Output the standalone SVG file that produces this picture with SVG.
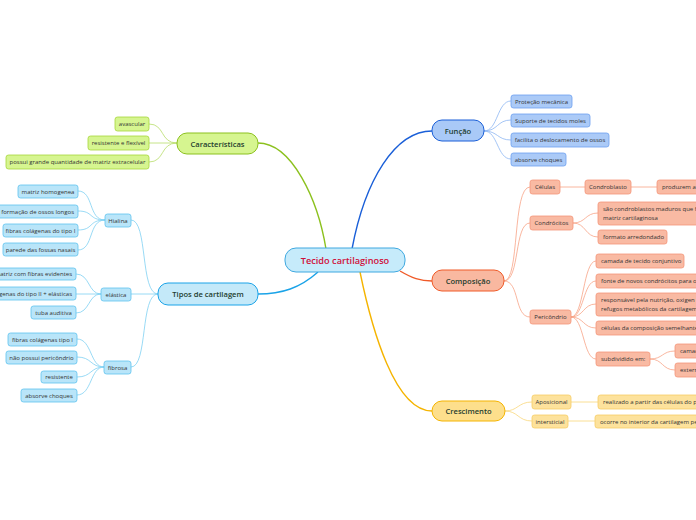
<svg xmlns="http://www.w3.org/2000/svg" width="696" height="520" viewBox="0 0 696 520">
<style>
text{font-family:"Open Sans","Liberation Sans",sans-serif;}
.leaf{font-size:6px;fill:#333;}
.topic{font-size:7.6px;font-weight:600;fill:#1e3d2f;}
.g{fill:#d6f590;stroke:#a6d63a;stroke-width:0.8;}
.lb{fill:#b9e5f9;stroke:#5ec3ef;stroke-width:0.8;}
.fb{fill:#abcaf7;stroke:#6c9ff0;stroke-width:0.8;}
.o{fill:#f9baa3;stroke:#f49678;stroke-width:0.8;}
.y{fill:#fde29c;stroke:#f6cd66;stroke-width:0.8;}
</style>
<rect width="696" height="520" fill="#ffffff"/>
<g id="connectors" fill="none">
<path d="M326,249 C318,200 292,143 258,143" stroke="#8cc11e" stroke-width="1.4"/>
<path d="M352,249 C365,180 395,131 432,131" stroke="#1a5fd8" stroke-width="1.4"/>
<path d="M318,272 C300,288 282,294 258,294" stroke="#1aa3e8" stroke-width="1.4"/>
<path d="M400,271 C412,278 420,281 432,281" stroke="#f05a28" stroke-width="1.4"/>
<path d="M360,272 C372,330 395,411 432,411" stroke="#f5b400" stroke-width="1.4"/>
<g stroke="#b8dd6a" stroke-width="0.8">
<path d="M177,143 C160,143 165,124 149,124"/>
<path d="M177,143 L149,143"/>
<path d="M177,143 C160,143 165,162 149,162"/>
</g>
<g stroke="#7fd0f3" stroke-width="0.8">
<path d="M158,294 C140,294 148,220 131,220"/>
<path d="M158,294 L131,294"/>
<path d="M158,294 C140,294 148,367 131,367"/>
<path d="M105,220 C88,220 94,191 78,191"/>
<path d="M105,220 C88,220 94,211 78,211"/>
<path d="M105,220 C88,220 94,230 78,230"/>
<path d="M105,220 C88,220 94,250 78,250"/>
<path d="M101,294 C88,294 90,274 76,274"/>
<path d="M101,294 L76,294"/>
<path d="M101,294 C88,294 90,313 76,313"/>
<path d="M104,367 C90,367 92,339 77,339"/>
<path d="M104,367 C90,367 92,357 77,357"/>
<path d="M104,367 C90,367 92,377 77,377"/>
<path d="M104,367 C90,367 92,395 77,395"/>
</g>
<g stroke="#8db6f3" stroke-width="0.8">
<path d="M484,131 C498,131 497,101 511,101"/>
<path d="M484,131 C498,131 497,120 511,120"/>
<path d="M484,131 C498,131 497,140 511,140"/>
<path d="M484,131 C498,131 497,159 511,159"/>
</g>
<g stroke="#f7a386" stroke-width="0.8">
<path d="M504,281 C520,281 512,187 530,187"/>
<path d="M504,281 C520,281 514,223 530,223"/>
<path d="M504,281 C520,281 514,317 530,317"/>
<path d="M560,187 L585,187"/>
<path d="M631,187 L657,187"/>
<path d="M573,223 C586,223 585,213 598,213"/>
<path d="M573,223 C586,223 585,237 598,237"/>
<path d="M571,317 C584,317 583,261 596,261"/>
<path d="M571,317 C584,317 583,281 596,281"/>
<path d="M571,317 C584,317 583,304 596,304"/>
<path d="M571,317 C584,317 583,328 596,328"/>
<path d="M571,317 C584,317 583,359 596,359"/>
<path d="M650,359 C663,359 662,351 675,351"/>
<path d="M650,359 C663,359 662,370 675,370"/>
</g>
<g stroke="#f9d77a" stroke-width="0.8">
<path d="M505,411 C518,411 518,402 532,402"/>
<path d="M505,411 C518,411 518,421 532,421"/>
<path d="M571,402 L598,402"/>
<path d="M568,421 L595,421"/>
</g>
</g>
<g id="central">
<rect x="285" y="248" width="120" height="24" rx="11" fill="#c6ebfb" stroke="#3ea8e0" stroke-width="1"/>
<text x="345" y="263.5" text-anchor="middle" font-size="9.2" font-weight="600" fill="#d0103a">Tecido cartilaginoso</text>
</g>
<g id="caracteristicas">
<rect x="177" y="133" width="81" height="21" rx="10" fill="#d6f590" stroke="#8cc11e" stroke-width="1"/>
<text class="topic" x="217.5" y="146.5" text-anchor="middle">Características</text>
</g>
<g id="car-1"><rect class="g" x="115" y="117" width="34" height="14" rx="2.5"/><text class="leaf" x="132" y="126" text-anchor="middle">avascular</text></g>
<g id="car-2"><rect class="g" x="88" y="136" width="61" height="14" rx="2.5"/><text class="leaf" x="118.5" y="145" text-anchor="middle">resistente e flexível</text></g>
<g id="car-3"><rect class="g" x="6" y="155" width="143" height="14" rx="2.5"/><text class="leaf" x="77.5" y="164" text-anchor="middle">possui grande quantidade de matriz extracelular</text></g>
<g id="tipos">
<rect x="158" y="283" width="100" height="22" rx="10" fill="#c4e9f9" stroke="#1aa3e8" stroke-width="1"/>
<text class="topic" x="208" y="297" text-anchor="middle">Tipos de cartilagem</text>
</g>
<g id="hialina"><rect class="lb" x="105" y="214" width="26" height="13" rx="2.5"/><text class="leaf" x="118" y="222.5" text-anchor="middle">Hialina</text></g>
<g id="h-1"><rect class="lb" x="18" y="185" width="60" height="13" rx="2.5"/><text class="leaf" x="48" y="193.5" text-anchor="middle">matriz homogenea</text></g>
<g id="h-2"><rect class="lb" x="-4" y="205" width="82" height="13" rx="2.5"/><text class="leaf" x="74" y="213.5" text-anchor="end">formação de ossos longos</text></g>
<g id="h-3"><rect class="lb" x="3" y="224" width="75" height="13" rx="2.5"/><text class="leaf" x="40.5" y="232.5" text-anchor="middle">fibras colágenas do tipo I</text></g>
<g id="h-4"><rect class="lb" x="3" y="243" width="75" height="13" rx="2.5"/><text class="leaf" x="40.5" y="251.5" text-anchor="middle">parede das fossas nasais</text></g>
<g id="elastica"><rect class="lb" x="101" y="288" width="30" height="13" rx="2.5"/><text class="leaf" x="116" y="296.5" text-anchor="middle">elástica</text></g>
<g id="e-1"><rect class="lb" x="-10" y="268" width="86" height="12" rx="2.5"/><text class="leaf" x="72" y="276" text-anchor="end">matriz com fibras evidentes</text></g>
<g id="e-2"><rect class="lb" x="-60" y="287" width="136" height="13" rx="2.5"/><text class="leaf" x="72" y="295.5" text-anchor="end">fibras colágenas do tipo II + elásticas</text></g>
<g id="e-3"><rect class="lb" x="31" y="306" width="45" height="13" rx="2.5"/><text class="leaf" x="53.5" y="314.5" text-anchor="middle">tuba auditiva</text></g>
<g id="fibrosa"><rect class="lb" x="104" y="361" width="27" height="13" rx="2.5"/><text class="leaf" x="117.5" y="369.5" text-anchor="middle">fibrosa</text></g>
<g id="f-1"><rect class="lb" x="8" y="333" width="69" height="13" rx="2.5"/><text class="leaf" x="42.5" y="341.5" text-anchor="middle">fibras colágenas tipo I</text></g>
<g id="f-2"><rect class="lb" x="6" y="351" width="71" height="13" rx="2.5"/><text class="leaf" x="41.5" y="359.5" text-anchor="middle">não possui pericôndrio</text></g>
<g id="f-3"><rect class="lb" x="41" y="371" width="36" height="12" rx="2.5"/><text class="leaf" x="59" y="379" text-anchor="middle">resistente</text></g>
<g id="f-4"><rect class="lb" x="21" y="389" width="56" height="13" rx="2.5"/><text class="leaf" x="49" y="397.5" text-anchor="middle">absorve choques</text></g>
<g id="funcao">
<rect x="432" y="120" width="52" height="21" rx="10" fill="#a9c9f7" stroke="#1a5fd8" stroke-width="1"/>
<text class="topic" x="458" y="133.5" text-anchor="middle">Função</text>
</g>
<g id="fu-1"><rect class="fb" x="511" y="95" width="61" height="13" rx="2.5"/><text class="leaf" x="541.5" y="103.5" text-anchor="middle">Proteção mecânica</text></g>
<g id="fu-2"><rect class="fb" x="511" y="114" width="79" height="13" rx="2.5"/><text class="leaf" x="550.5" y="122.5" text-anchor="middle">Suporte de tecidos moles</text></g>
<g id="fu-3"><rect class="fb" x="511" y="133" width="98" height="14" rx="2.5"/><text class="leaf" x="560" y="142" text-anchor="middle">facilita o deslocamento de ossos</text></g>
<g id="fu-4"><rect class="fb" x="511" y="153" width="55" height="13" rx="2.5"/><text class="leaf" x="538.5" y="161.5" text-anchor="middle">absorve choques</text></g>
<g id="composicao">
<rect x="432" y="270" width="72" height="21" rx="10" fill="#f9b8a0" stroke="#f05a28" stroke-width="1"/>
<text class="topic" x="468" y="283.5" text-anchor="middle">Composição</text>
</g>
<g id="celulas"><rect class="o" x="530" y="180" width="30" height="14" rx="2.5"/><text class="leaf" x="545" y="189" text-anchor="middle">Células</text></g>
<g id="condroblasto"><rect class="o" x="585" y="180" width="46" height="14" rx="2.5"/><text class="leaf" x="608" y="189" text-anchor="middle">Condroblasto</text></g>
<g id="produzem"><rect class="o" x="657" y="180" width="60" height="14" rx="2.5"/><text class="leaf" x="662" y="189">produzem a</text></g>
<g id="condrocitos"><rect class="o" x="530" y="216" width="43" height="14" rx="2.5"/><text class="leaf" x="551.5" y="225" text-anchor="middle">Condrócitos</text></g>
<g id="cd-1"><rect class="o" x="598" y="202" width="110" height="23" rx="2.5"/><text class="leaf" x="603" y="211">são condroblastos maduros que f</text><text class="leaf" x="603" y="220">matriz cartilaginosa</text></g>
<g id="cd-2"><rect class="o" x="598" y="230" width="69" height="14" rx="2.5"/><text class="leaf" x="603" y="239">formato arredondado</text></g>
<g id="pericondrio"><rect class="o" x="530" y="310" width="41" height="14" rx="2.5"/><text class="leaf" x="550.5" y="319" text-anchor="middle">Pericôndrio</text></g>
<g id="pe-1"><rect class="o" x="596" y="254" width="88" height="14" rx="2.5"/><text class="leaf" x="601" y="263">camada de tecido conjuntivo</text></g>
<g id="pe-2"><rect class="o" x="596" y="274" width="110" height="14" rx="2.5"/><text class="leaf" x="601" y="283">fonte de novos condrócitos para o</text></g>
<g id="pe-3"><rect class="o" x="596" y="293" width="110" height="23" rx="2.5"/><text class="leaf" x="601" y="302">responsável pela nutrição, oxigen</text><text class="leaf" x="601" y="311">refugos metabólicos da cartilagem</text></g>
<g id="pe-4"><rect class="o" x="596" y="321" width="110" height="14" rx="2.5"/><text class="leaf" x="601" y="330">células da composição semelhante</text></g>
<g id="pe-5"><rect class="o" x="596" y="352" width="54" height="14" rx="2.5"/><text class="leaf" x="601" y="361">subdividido em:</text></g>
<g id="pe-5a"><rect class="o" x="675" y="344" width="40" height="14" rx="2.5"/><text class="leaf" x="680" y="353">camada</text></g>
<g id="pe-5b"><rect class="o" x="675" y="363" width="40" height="14" rx="2.5"/><text class="leaf" x="680" y="372">externa</text></g>
<g id="crescimento">
<rect x="432" y="401" width="73" height="20" rx="10" fill="#fddf8c" stroke="#f5b400" stroke-width="1"/>
<text class="topic" x="468.5" y="414" text-anchor="middle">Crescimento</text>
</g>
<g id="aposicional"><rect class="y" x="532" y="395" width="39" height="14" rx="2.5"/><text class="leaf" x="551.5" y="404" text-anchor="middle">Aposicional</text></g>
<g id="ap-1"><rect class="y" x="598" y="395" width="110" height="14" rx="2.5"/><text class="leaf" x="603" y="404">realizado a partir das células do p</text></g>
<g id="intersticial"><rect class="y" x="532" y="415" width="36" height="13" rx="2.5"/><text class="leaf" x="550" y="423.5" text-anchor="middle">intersticial</text></g>
<g id="in-1"><rect class="y" x="595" y="415" width="110" height="13" rx="2.5"/><text class="leaf" x="600" y="423.5">ocorre no interior da cartilagem pe</text></g>
</svg>
